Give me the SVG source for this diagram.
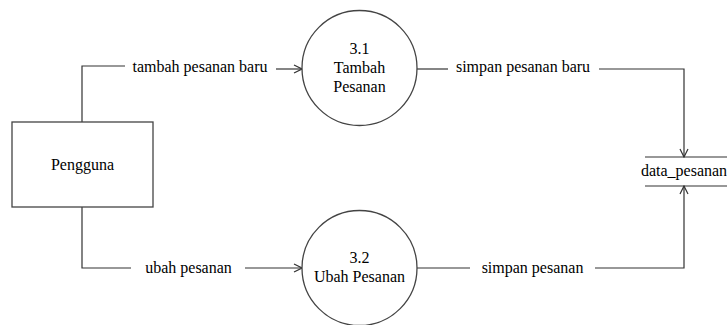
<svg xmlns="http://www.w3.org/2000/svg" width="727" height="325" viewBox="0 0 727 325" font-family="Liberation Serif, Times New Roman, serif" font-size="16">
<style>
.ln{fill:none;stroke:#333;stroke-width:1.2}
.nd{fill:#fff;stroke:#444;stroke-width:1.3}
</style>
<defs>
<marker id="ar" markerWidth="10" markerHeight="10" refX="9" refY="5" orient="auto" markerUnits="userSpaceOnUse">
<path d="M1,1 L9,5 L1,9" fill="none" stroke="#333" stroke-width="1.2"/>
</marker>
</defs>
<rect width="727" height="325" fill="#fff"/>
<g id="connectors">
<path class="ln" d="M82,122 V66 H125"/>
<path class="ln" d="M276,69 H302" marker-end="url(#ar)"/>
<text x="200" y="72" text-anchor="middle">tambah pesanan baru</text>
<path class="ln" d="M417,69 H448"/>
<text x="523" y="72" text-anchor="middle">simpan pesanan baru</text>
<path class="ln" d="M599,69 H684 V157" marker-end="url(#ar)"/>
<path class="ln" d="M82,207 V268 H131"/>
<text x="188.5" y="273" text-anchor="middle">ubah pesanan</text>
<path class="ln" d="M245,268 H302" marker-end="url(#ar)"/>
<path class="ln" d="M417,268 H470"/>
<text x="532.5" y="273" text-anchor="middle">simpan pesanan</text>
<path class="ln" d="M595,268 H684 V186" marker-end="url(#ar)"/>
</g>
<g id="pengguna">
<rect class="nd" x="12" y="122" width="141" height="85"/>
<text x="82.5" y="170" text-anchor="middle">Pengguna</text>
</g>
<g id="p31">
<circle class="nd" cx="359.5" cy="68" r="57.5"/>
<text x="359.5" y="54" text-anchor="middle">3.1</text>
<text x="359.5" y="73" text-anchor="middle">Tambah</text>
<text x="359.5" y="92" text-anchor="middle">Pesanan</text>
</g>
<g id="p32">
<circle class="nd" cx="359.5" cy="268" r="57.5"/>
<text x="359.5" y="263" text-anchor="middle">3.2</text>
<text x="359.5" y="282" text-anchor="middle">Ubah Pesanan</text>
</g>
<g id="data_pesanan">
<path class="ln" d="M645,157 H727 M645,186 H727" stroke="#555"/>
<text x="684" y="176" text-anchor="middle">data_pesanan</text>
</g>
</svg>
